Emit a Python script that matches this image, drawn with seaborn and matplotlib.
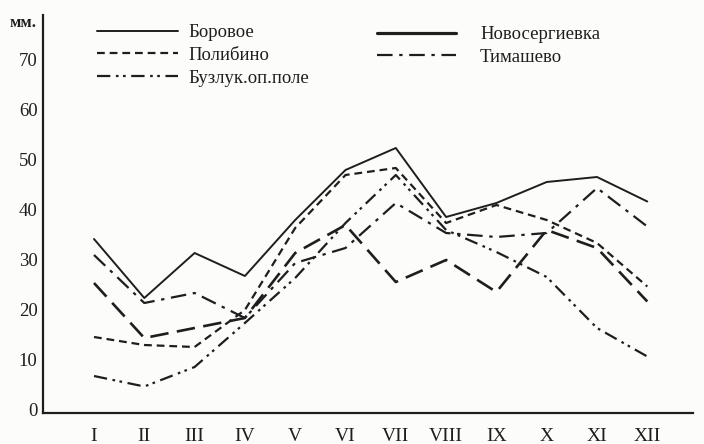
import matplotlib
matplotlib.use("Agg")
import matplotlib.pyplot as plt
import seaborn as sns
import pandas as pd
from matplotlib.lines import Line2D
from matplotlib.transforms import ScaledTranslation

# ---- data (mm of precipitation) ----
months = [1, 2, 3, 4, 5, 6, 7, 8, 9, 10, 11, 12]
month_labels = ["I", "II", "III", "IV", "V", "VI", "VII", "VIII", "IX", "X", "XI", "XII"]
y_ticks = [0, 10, 20, 30, 40, 50, 60, 70]

borovoe = [34.8, 23.0, 32.0, 27.4, 38.6, 48.6, 53.0, 39.2, 42.0, 46.2, 47.2, 42.3]
novosergievka = [26.0, 15.0, 17.0, 19.0, 32.0, 37.6, 26.2, 30.6, 24.2, 36.6, 33.0, 22.3]
polibino = [15.2, 13.6, 13.2, 20.6, 37.0, 47.6, 49.0, 38.0, 41.6, 38.6, 34.0, 25.3]
timashevo = [31.6, 22.0, 24.0, 19.0, 30.0, 33.0, 42.0, 36.0, 35.2, 36.0, 45.0, 37.3]
buzuluk = [7.4, 5.3, 9.2, 18.0, 27.0, 38.0, 47.6, 36.6, 32.2, 27.2, 17.0, 11.3]

names = ["Боровое", "Новосергиевка", "Полибино", "Тимашево", "Бузлук.оп.поле"]

sns.set_theme(style="white")
plt.rcParams["font.family"] = ["Liberation Serif", "DejaVu Serif"]

ink = "#1e1e1e"
W, H = 704, 444
fig = plt.figure(figsize=(W / 100, H / 100), dpi=100)
fig.patch.set_facecolor("#fcfcfb")
ax = fig.add_axes([43 / W, 31 / H, 650 / W, 398 / H])
ax.set_facecolor("#fcfcfb")

styles = {
    "Боровое": ("-", 1.4),
    "Новосергиевка": ((0, (7, 3.2)), 1.9),
    "Полибино": ((0, (3.5, 2.2)), 1.6),
    "Тимашево": ((0, (7, 3, 1.5, 3)), 1.6),
    "Бузлук.оп.поле": ((0, (6, 2.5, 1.2, 2, 1.2, 2.5)), 1.6),
}
data = {
    "Боровое": borovoe,
    "Новосергиевка": novosergievka,
    "Полибино": polibino,
    "Тимашево": timashevo,
    "Бузлук.оп.поле": buzuluk,
}

handles = {}
for name in names:
    df = pd.DataFrame({"month": months, "mm": data[name]})
    ls, lw = styles[name]
    n_before = len(ax.lines)
    sns.lineplot(data=df, x="month", y="mm", ax=ax, color=ink,
                 linewidth=lw, linestyle=ls, legend=False)
    handles[name] = ax.lines[n_before]

# in the original legend the heavy line is drawn as a bold continuous stroke
handles["Новосергиевка"] = Line2D([], [], color=ink, linewidth=2.3, linestyle="-")

ax.set_xlim(1 - 51 / 50.3, 1 + 599 / 50.3)
ax.set_ylim(0, 79.6)
ax.set_xticks(months)
ax.set_xticklabels(month_labels, fontsize=14, color=ink)
ax.set_yticks(y_ticks)
ax.set_yticklabels([str(v) for v in y_ticks], fontsize=13.5, color=ink)
ax.set_xlabel("")
ax.set_ylabel("")
for s in ["top", "right"]:
    ax.spines[s].set_visible(False)
for s in ["left", "bottom"]:
    ax.spines[s].set_color(ink)
    ax.spines[s].set_linewidth(1.6)
ax.tick_params(axis="x", direction="out", length=4, width=1.3, color=ink, pad=7)
ax.tick_params(axis="y", direction="out", length=3, width=1.3, color=ink, pad=1)
for lbl in ax.get_yticklabels():
    lbl.set_transform(lbl.get_transform() + ScaledTranslation(0, 4 / 100, fig.dpi_scale_trans))

fig.text(10 / W, 1 - 23 / H, "мм.", fontsize=12, fontweight="bold", color=ink,
         va="center", ha="left")

# legends
col1 = ["Боровое", "Полибино", "Бузлук.оп.поле"]
col2 = ["Новосергиевка", "Тимашево"]
leg1 = fig.legend([handles[n] for n in col1], col1, loc="upper left",
                  bbox_to_anchor=(97 / W, 1 - 24 / H), frameon=False,
                  fontsize=13.5, handlelength=4.3, handletextpad=0.6,
                  labelspacing=0.3, borderpad=0, borderaxespad=0)
leg2 = fig.legend([handles[n] for n in col2], col2, loc="upper left",
                  bbox_to_anchor=(377 / W, 1 - 26 / H), frameon=False,
                  fontsize=13.5, handlelength=4.2, handletextpad=1.3,
                  labelspacing=0.3, borderpad=0, borderaxespad=0)
for leg in (leg1, leg2):
    for t in leg.get_texts():
        t.set_color(ink)

fig.savefig("out.png", dpi=100, facecolor=fig.get_facecolor())
